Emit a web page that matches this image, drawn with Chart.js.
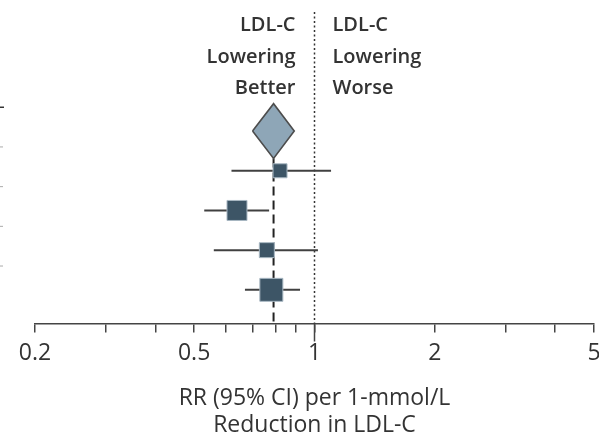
<!DOCTYPE html>
<html>
<head>
<meta charset="utf-8">
<script src="https://cdn.jsdelivr.net/npm/chart.js@4"></script>
<style>
  html, body { margin: 0; padding: 0; background: #fff; overflow: hidden; }
  #wrap { width: 599px; height: 439px; position: relative; }
  canvas { display: block; }
</style>
</head>
<body>
<div id="wrap"><canvas id="forest"></canvas></div>
<script>
// rows: pooled estimate first, then the individual estimates
const rowLabels = ["Pooled", "Study 1", "Study 2", "Study 3", "Study 4"];
const rr = [0.82, 0.64, 0.76, 0.78];
const ciLow = [0.62, 0.53, 0.56, 0.67];
const ciHigh = [1.10, 0.77, 1.02, 0.92];
const weights = [14, 20, 15, 23];
const pooledRR = 0.79;
const pooledLow = 0.70;
const pooledHigh = 0.89;
const xTicks = [0.2, 0.3, 0.4, 0.5, 0.6, 0.7, 0.8, 0.9, 1, 2, 3, 4, 5];
const xLabels = [0.2, 0.5, 1, 2, 5];

const Y_MIN = -2, Y_MAX = 5.85;
const DIAMOND_HALF = 0.69;

const squareColor = "#3d5566";
const lineColor = "#404040";
const textColor = "#333";

const rowY = (i) => i + 1; // pooled row = 1, study i = i + 2

const ciSets = rr.map((v, i) => ({
  data: [{ x: ciLow[i], y: rowY(i + 1) }, { x: ciHigh[i], y: rowY(i + 1) }],
  showLine: true,
  borderColor: lineColor,
  borderWidth: 2,
  pointRadius: 0,
  order: 3,
}));

const squares = {
  data: rr.map((v, i) => ({ x: v, y: rowY(i + 1) })),
  pointStyle: "rect",
  pointRadius: weights.map((w) => w / Math.SQRT2),
  backgroundColor: squareColor,
  borderColor: "#a9b8c3",
  borderWidth: 1,
  order: 0,
};

const diamond = {
  data: [
    { x: pooledLow, y: rowY(0) },
    { x: pooledRR, y: rowY(0) - DIAMOND_HALF },
    { x: pooledHigh, y: rowY(0) },
    { x: pooledRR, y: rowY(0) + DIAMOND_HALF },
    { x: pooledLow, y: rowY(0) },
  ],
  showLine: true,
  fill: "shape",
  backgroundColor: "#8ea6b7",
  borderColor: "#4d4d4d",
  borderWidth: 1.6,
  pointRadius: 0,
  tension: 0,
  order: 1,
};

const pooledLine = {
  data: [{ x: pooledRR, y: rowY(0) + DIAMOND_HALF }, { x: pooledRR, y: Y_MAX }],
  showLine: true,
  borderColor: "#222",
  borderWidth: 2,
  borderDash: [9, 5],
  pointRadius: 0,
  order: 4,
};

const nullLine = {
  data: [{ x: 1, y: Y_MIN }, { x: 1, y: Y_MAX }],
  showLine: true,
  borderColor: "#333",
  borderWidth: 1.5,
  borderDash: [2, 2.5],
  pointRadius: 0,
  order: 5,
};

const nullTick = {
  data: [{ x: 1, y: Y_MAX }, { x: 1, y: 6.3 }],
  showLine: true,
  borderColor: "#444",
  borderWidth: 1.5,
  pointRadius: 0,
  clip: false,
  order: 5,
};

const headers = {
  id: "headers",
  afterDraw(chart) {
    const { ctx, scales } = chart;
    const x1 = scales.x.getPixelForValue(1);
    ctx.save();
    ctx.fillStyle = textColor;
    ctx.font = '600 20px "Open Sans"';
    ctx.textBaseline = "middle";
    const left = ["LDL-C", "Lowering", "Better"];
    const right = ["LDL-C", "Lowering", "Worse"];
    const ys = [25, 57, 88];
    ctx.textAlign = "right";
    left.forEach((t, i) => ctx.fillText(t, x1 - 19, ys[i]));
    ctx.textAlign = "left";
    right.forEach((t, i) => ctx.fillText(t, x1 + 18, ys[i]));
    // row separator ticks from the cropped table on the left
    rowLabels.forEach((r, i) => {
      const y = scales.y.getPixelForValue(i + 0.4);
      ctx.strokeStyle = i === 0 ? "#333" : "#aaa";
      ctx.lineWidth = i === 0 ? 1.5 : 1;
      ctx.beginPath();
      ctx.moveTo(0, y);
      ctx.lineTo(i === 0 ? 4 : 3, y);
      ctx.stroke();
    });
    ctx.restore();
  },
};

new Chart(document.getElementById("forest"), {
  type: "scatter",
  data: { datasets: [squares, diamond, ...ciSets, pooledLine, nullLine, nullTick] },
  options: {
    responsive: true,
    maintainAspectRatio: false,
    animation: false,
    layout: { autoPadding: false, padding: { left: 35, right: 5, top: 12, bottom: 0 } },
    plugins: { legend: { display: false }, tooltip: { enabled: false } },
    scales: {
      x: {
        type: "logarithmic",
        min: 0.2,
        max: 5,
        afterBuildTicks: (s) => {
          s.ticks = xTicks.map((v) => ({ value: v }));
        },
        afterFit: (s) => {
          s.paddingLeft = 0;
          s.paddingRight = 0;
        },
        ticks: {
          autoSkip: false,
          maxRotation: 0,
          color: textColor,
          padding: 7,
          font: { family: "Open Sans", size: 23 },
          callback: (v) =>
            xLabels.some((l) => Math.abs(l - v) < 1e-9) ? String(v) : "",
        },
        grid: {
          drawOnChartArea: false,
          drawTicks: true,
          tickLength: 9,
          color: "#444",
          lineWidth: 1.5,
        },
        border: { display: true, color: "#444", width: 1.5 },
        title: {
          display: true,
          text: ["RR (95% CI) per 1-mmol/L", "Reduction in LDL-C"],
          color: textColor,
          font: { family: "Open Sans", size: 23, lineHeight: 1.17 },
          padding: { top: 11, bottom: 0 },
        },
      },
      y: {
        display: false,
        min: Y_MIN,
        max: Y_MAX,
        reverse: true,
      },
    },
  },
  plugins: [headers],
});
</script>
</body>
</html>
